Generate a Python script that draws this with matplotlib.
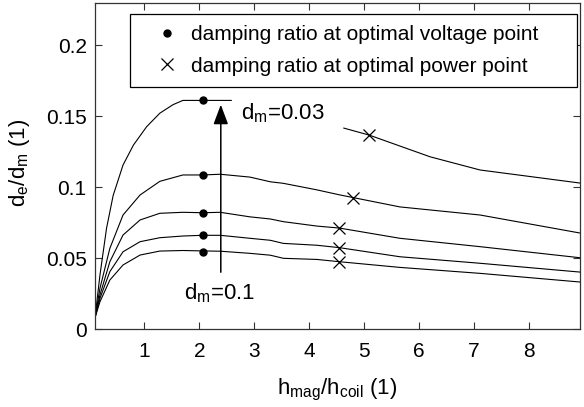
import matplotlib
matplotlib.use("Agg")
import matplotlib.pyplot as plt
from matplotlib.lines import Line2D

plt.rcParams['font.family'] = ['Liberation Sans', 'DejaVu Sans']
plt.rcParams['mathtext.default'] = 'regular'

# d_e/d_m over h_mag/h_coil, one curve per d_m (0.03 top ... 0.1 bottom)
x_003 = [0.1, 0.19, 0.31, 0.43, 0.61, 0.80, 1.04, 1.28, 1.52, 1.70, 2.06, 2.58]
y_003 = [0.008, 0.038, 0.071, 0.094, 0.1155, 0.1296, 0.1425, 0.152, 0.158, 0.161, 0.161, 0.161]
x_003_tail = [4.63, 5.09, 6.2, 7.11, 8.93]
y_003_tail = [0.1415, 0.1366, 0.1213, 0.112, 0.1028]

x_lo = [0.1, 0.19, 0.37, 0.61, 0.92, 1.28, 1.7, 2.06, 2.38, 2.92, 3.29, 3.53, 4.14, 4.55, 5.65, 7.11, 8.93]
y_a = [0.008, 0.0287, 0.0568, 0.0803, 0.0944, 0.104, 0.1085, 0.1085, 0.109, 0.107, 0.1037, 0.1026, 0.098, 0.0945, 0.086, 0.0803, 0.0676]
y_b = [0.008, 0.024, 0.0474, 0.0662, 0.0768, 0.0815, 0.0822, 0.0819, 0.0822, 0.079, 0.0775, 0.0756, 0.0725, 0.0711, 0.0639, 0.058, 0.0502]
y_c = [0.008, 0.0216, 0.0404, 0.0544, 0.0615, 0.0643, 0.0655, 0.066, 0.066, 0.0639, 0.0625, 0.0603, 0.059, 0.0573, 0.0509, 0.0463, 0.0401]
y_d = [0.008, 0.0192, 0.0345, 0.0451, 0.0521, 0.0549, 0.0553, 0.055, 0.0548, 0.0533, 0.052, 0.0498, 0.049, 0.0474, 0.0434, 0.0392, 0.0331]

# optimal voltage points (dots) and optimal power points (crosses)
volt_x = [2.06, 2.06, 2.06, 2.06, 2.06]
volt_y = [0.161, 0.1085, 0.0819, 0.066, 0.054]
pow_x = [5.09, 4.79, 4.55, 4.55, 4.55]
pow_y = [0.1366, 0.0925, 0.0711, 0.0573, 0.0474]

fig = plt.figure(figsize=(5.84, 4.07), dpi=100)
ax = fig.add_axes([0.1627, 0.1916, 0.8305, 0.801])

lw = 0.8
ax.plot(x_003, y_003, color='black', lw=lw)
ax.plot(x_003_tail, y_003_tail, color='black', lw=lw)
for y in (y_a, y_b, y_c, y_d):
    ax.plot(x_lo, y, color='black', lw=lw)

ax.plot(volt_x, volt_y, 'o', color='black', ms=5, ls='none')
ax.plot(pow_x, pow_y, 'x', color='black', ms=8, mew=0.9, ls='none')

ax.annotate('', xy=(2.39, 0.158), xytext=(2.39, 0.040),
            arrowprops=dict(arrowstyle='-|>,head_length=1.2,head_width=0.45',
                            color='black', lw=1.1, shrinkA=0, shrinkB=0))
ax.text(2.76, 0.152, '$d_m$=0.03', fontsize=16, va='center', ha='left')
ax.text(1.72, 0.025, '$d_m$=0.1', fontsize=16, va='center', ha='left')

ax.set_xlim(0.1, 8.93)
ax.set_ylim(0, 0.2296)
ax.set_xticks([1, 2, 3, 4, 5, 6, 7, 8])
ax.set_yticks([0, 0.05, 0.1, 0.15, 0.2])
ax.set_yticklabels(['0', '0.05', '0.1', '0.15', '0.2'])
ax.tick_params(direction='in', top=True, right=True, length=5, width=0.8,
               labelsize=15, pad=6, color='#333333')
ax.tick_params(axis='x', pad=9)
for s in ax.spines.values():
    s.set_linewidth(0.9)
    s.set_color('#333333')

ax.set_xlabel('$h_{mag}$/$h_{coil}$ (1)', fontsize=16)
ax.set_ylabel('$d_e$/$d_m$ (1)', fontsize=16)
ax.xaxis.set_label_coords(0.5, -0.147)
ax.yaxis.set_label_coords(-0.13, 0.51)

handles = [Line2D([], [], marker='o', color='black', ls='none', ms=5),
           Line2D([], [], marker='x', color='black', ls='none', ms=8, mew=0.9)]
leg = ax.legend(handles, ['damping ratio at optimal voltage point',
                          'damping ratio at optimal power point'],
                loc='upper left', bbox_to_anchor=(0.0722, 0.0, 0.9216, 0.966),
                mode='expand', fontsize=15, fancybox=False, framealpha=1,
                edgecolor='black', handlelength=2.52, handletextpad=-0.11,
                borderpad=0.53, labelspacing=0.6, borderaxespad=0)
leg.get_frame().set_linewidth(0.9)

fig.savefig('out.png', dpi=100)
